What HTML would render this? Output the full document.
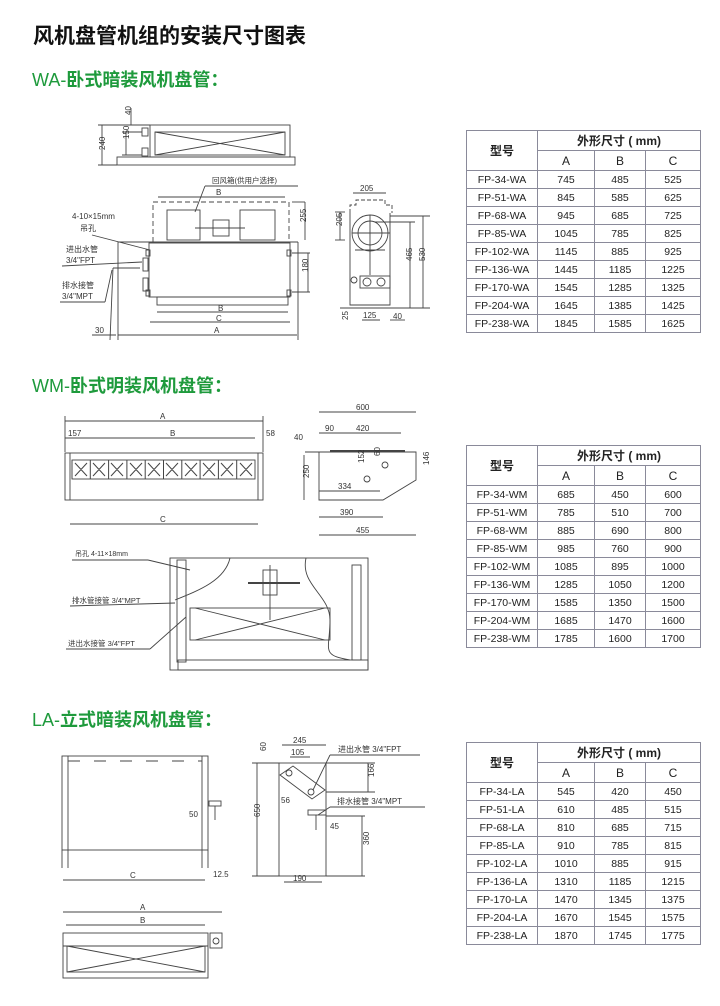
<!DOCTYPE html>
<html><head><meta charset="utf-8">
<style>
html,body{margin:0;padding:0;background:#fff;}
body{width:720px;height:1006px;position:relative;overflow:hidden;font-family:"Liberation Sans","Noto Sans CJK SC",sans-serif;}
.t{position:absolute;white-space:nowrap;}
h1{position:absolute;left:33px;top:20px;margin:0;font-size:21px;font-weight:bold;color:#111;font-family:"Liberation Sans","Noto Sans CJK SC",sans-serif;}
.sec{position:absolute;left:32px;margin:0;font-size:18px;font-weight:bold;color:#1e9a3c;}
.sec span{font-weight:normal}
table{position:absolute;left:466px;width:234px;border-collapse:collapse;font-size:10.5px;color:#222;table-layout:fixed;}
td{border:1.5px solid #8a8a9a;text-align:center;padding:0;height:17px;}
td.h{font-weight:bold;font-size:12px;}
svg{position:absolute;left:0;top:0;}
svg text{font-family:"Liberation Sans","Noto Sans CJK SC",sans-serif;fill:#333;}
</style></head><body>
<h1>风机盘管机组的安装尺寸图表</h1>
<div class="sec" style="top:66px"><span>WA-</span>卧式暗装风机盘管：</div>
<div class="sec" style="top:372px"><span>WM-</span>卧式明装风机盘管：</div>
<div class="sec" style="top:706px"><span>LA-</span>立式暗装风机盘管：</div>

<table style="top:130px">
<colgroup><col style="width:71px"><col style="width:57px"><col style="width:51px"><col style="width:55px"></colgroup>
<tr><td class="h" rowspan="2" style="height:38px">型号</td><td class="h" colspan="3" style="height:19px">外形尺寸 ( mm)</td></tr>
<tr><td style="height:19px;font-size:12px">A</td><td style="font-size:12px">B</td><td style="font-size:12px">C</td></tr>
<tr><td>FP-34-WA</td><td>745</td><td>485</td><td>525</td></tr>
<tr><td>FP-51-WA</td><td>845</td><td>585</td><td>625</td></tr>
<tr><td>FP-68-WA</td><td>945</td><td>685</td><td>725</td></tr>
<tr><td>FP-85-WA</td><td>1045</td><td>785</td><td>825</td></tr>
<tr><td>FP-102-WA</td><td>1145</td><td>885</td><td>925</td></tr>
<tr><td>FP-136-WA</td><td>1445</td><td>1185</td><td>1225</td></tr>
<tr><td>FP-170-WA</td><td>1545</td><td>1285</td><td>1325</td></tr>
<tr><td>FP-204-WA</td><td>1645</td><td>1385</td><td>1425</td></tr>
<tr><td>FP-238-WA</td><td>1845</td><td>1585</td><td>1625</td></tr>
</table>

<table style="top:445px">
<colgroup><col style="width:71px"><col style="width:57px"><col style="width:51px"><col style="width:55px"></colgroup>
<tr><td class="h" rowspan="2" style="height:38px">型号</td><td class="h" colspan="3" style="height:19px">外形尺寸 ( mm)</td></tr>
<tr><td style="height:19px;font-size:12px">A</td><td style="font-size:12px">B</td><td style="font-size:12px">C</td></tr>
<tr><td>FP-34-WM</td><td>685</td><td>450</td><td>600</td></tr>
<tr><td>FP-51-WM</td><td>785</td><td>510</td><td>700</td></tr>
<tr><td>FP-68-WM</td><td>885</td><td>690</td><td>800</td></tr>
<tr><td>FP-85-WM</td><td>985</td><td>760</td><td>900</td></tr>
<tr><td>FP-102-WM</td><td>1085</td><td>895</td><td>1000</td></tr>
<tr><td>FP-136-WM</td><td>1285</td><td>1050</td><td>1200</td></tr>
<tr><td>FP-170-WM</td><td>1585</td><td>1350</td><td>1500</td></tr>
<tr><td>FP-204-WM</td><td>1685</td><td>1470</td><td>1600</td></tr>
<tr><td>FP-238-WM</td><td>1785</td><td>1600</td><td>1700</td></tr>
</table>

<table style="top:742px">
<colgroup><col style="width:71px"><col style="width:57px"><col style="width:51px"><col style="width:55px"></colgroup>
<tr><td class="h" rowspan="2" style="height:38px">型号</td><td class="h" colspan="3" style="height:19px">外形尺寸 ( mm)</td></tr>
<tr><td style="height:19px;font-size:12px">A</td><td style="font-size:12px">B</td><td style="font-size:12px">C</td></tr>
<tr><td>FP-34-LA</td><td>545</td><td>420</td><td>450</td></tr>
<tr><td>FP-51-LA</td><td>610</td><td>485</td><td>515</td></tr>
<tr><td>FP-68-LA</td><td>810</td><td>685</td><td>715</td></tr>
<tr><td>FP-85-LA</td><td>910</td><td>785</td><td>815</td></tr>
<tr><td>FP-102-LA</td><td>1010</td><td>885</td><td>915</td></tr>
<tr><td>FP-136-LA</td><td>1310</td><td>1185</td><td>1215</td></tr>
<tr><td>FP-170-LA</td><td>1470</td><td>1345</td><td>1375</td></tr>
<tr><td>FP-204-LA</td><td>1670</td><td>1545</td><td>1575</td></tr>
<tr><td>FP-238-LA</td><td>1870</td><td>1745</td><td>1775</td></tr>
</table>

<svg width="720" height="1006" viewBox="0 0 720 1006" fill="none" stroke="#444" stroke-width="0.9" font-size="8">
<!-- WA top view -->
<line x1="98" y1="125" x2="150" y2="125"/>
<rect x="150" y="125" width="140" height="32"/>
<rect x="155" y="132" width="130" height="23"/>
<line x1="155" y1="132" x2="285" y2="155"/><line x1="155" y1="155" x2="285" y2="132"/>
<rect x="117" y="157" width="178" height="8"/>
<rect x="142" y="128" width="6" height="8"/><rect x="142" y="148" width="6" height="8"/>
<line x1="102" y1="125" x2="102" y2="165"/><line x1="98" y1="165" x2="117" y2="165"/>
<line x1="126" y1="132" x2="126" y2="155"/><line x1="122" y1="132" x2="142" y2="132"/><line x1="122" y1="155" x2="142" y2="155"/>
<line x1="131" y1="108" x2="131" y2="125"/>
<text x="100" y="155" transform="rotate(-90 100 150)" stroke="none">240</text>
<text x="127" y="147" transform="rotate(-90 124 142)" stroke="none">150</text>
<text x="130" y="120" transform="rotate(-90 128 117)" stroke="none">40</text>
<!-- WA front -->
<rect x="153" y="202" width="136" height="40" stroke-dasharray="5,3"/>
<line x1="158" y1="197" x2="285" y2="197"/><text x="216" y="195" stroke="none">B</text>
<text x="212" y="183" stroke="none" font-size="7.5">回风箱(供用户选择)</text>
<line x1="205" y1="186" x2="298" y2="186"/><line x1="205" y1="186" x2="195" y2="212"/>
<rect x="167" y="210" width="33" height="30"/><rect x="240" y="210" width="35" height="30"/>
<rect x="213" y="220" width="16" height="16"/><line x1="195" y1="228" x2="245" y2="228"/>
<line x1="118" y1="242" x2="298" y2="242"/><line x1="118" y1="242" x2="118" y2="340"/><line x1="298" y1="242" x2="298" y2="340"/>
<rect x="149" y="243" width="141" height="54"/>
<rect x="157" y="297" width="131" height="8"/>
<rect x="146" y="250" width="4" height="6"/><rect x="146" y="290" width="4" height="6"/><rect x="287" y="250" width="4" height="6"/><rect x="287" y="290" width="4" height="6"/>
<rect x="143" y="258" width="5" height="13"/><rect x="143" y="278" width="5" height="13"/>
<line x1="292" y1="202" x2="305" y2="202"/><line x1="305" y1="202" x2="305" y2="240"/>
<line x1="292" y1="253" x2="310" y2="253"/><line x1="308" y1="253" x2="308" y2="292"/><line x1="292" y1="292" x2="310" y2="292"/>
<text x="300" y="228" transform="rotate(-90 300 222)" stroke="none">255</text>
<text x="302" y="278" transform="rotate(-90 302 272)" stroke="none">180</text>
<line x1="157" y1="312" x2="288" y2="312"/><text x="218" y="311" stroke="none">B</text>
<line x1="150" y1="322" x2="290" y2="322"/><text x="216" y="321" stroke="none">C</text>
<line x1="118" y1="335" x2="297" y2="335"/><text x="214" y="333" stroke="none">A</text>
<line x1="113" y1="268" x2="140" y2="268"/><line x1="113" y1="268" x2="110" y2="340"/>
<text x="95" y="333" stroke="none">30</text><line x1="92" y1="335" x2="116" y2="335"/>
<text x="72" y="219" stroke="none">4-10×15mm</text><text x="80" y="231" stroke="none">吊孔</text>
<line x1="92" y1="235" x2="150" y2="250"/>
<text x="66" y="252" stroke="none">进出水管</text><text x="66" y="263" stroke="none">3/4"FPT</text>
<line x1="62" y1="266" x2="142" y2="262"/>
<text x="62" y="288" stroke="none">排水接管</text><text x="62" y="299" stroke="none">3/4"MPT</text>
<line x1="60" y1="302" x2="105" y2="302"/><line x1="105" y1="302" x2="112" y2="270"/>
<!-- WA side -->
<line x1="353" y1="193" x2="386" y2="193"/><text x="360" y="191" stroke="none">205</text>
<path d="M350 213 V205 H356 V200 H385 V205 H392 V213" stroke-dasharray="4,2"/>
<path d="M350 213 V305 H390 V213"/>
<circle cx="370" cy="233" r="18"/><circle cx="370" cy="233" r="12"/>
<line x1="370" y1="215" x2="370" y2="275"/><line x1="352" y1="233" x2="390" y2="233"/>
<line x1="355" y1="250" x2="385" y2="250"/><rect x="360" y="276" width="30" height="12"/>
<circle cx="367" cy="282" r="4"/><circle cx="381" cy="282" r="4"/><circle cx="354" cy="280" r="3"/>
<line x1="335" y1="212" x2="345" y2="212"/><line x1="340" y1="212" x2="340" y2="240"/><line x1="335" y1="240" x2="345" y2="240"/>
<text x="338" y="230" transform="rotate(-90 338 226)" stroke="none">205</text>
<line x1="390" y1="216" x2="430" y2="216"/><line x1="423" y1="216" x2="423" y2="308"/>
<line x1="375" y1="222" x2="415" y2="222"/><line x1="410" y1="222" x2="410" y2="308"/>
<line x1="340" y1="308" x2="430" y2="308"/>
<text x="411" y="268" transform="rotate(-90 408 264)" stroke="none">465</text>
<text x="424" y="268" transform="rotate(-90 421 264)" stroke="none">530</text>
<line x1="362" y1="320" x2="380" y2="320"/><text x="363" y="318" stroke="none">125</text>
<text x="393" y="319" stroke="none">40</text><line x1="390" y1="320" x2="405" y2="320"/>
<text x="343" y="325" transform="rotate(-90 343 320)" stroke="none">25</text>

<!-- WM front -->
<line x1="65" y1="421" x2="263" y2="421"/><text x="160" y="419" stroke="none">A</text>
<line x1="65" y1="438" x2="255" y2="438"/><text x="170" y="436" stroke="none">B</text>
<text x="68" y="436" stroke="none">157</text><text x="266" y="436" stroke="none">58</text>
<line x1="65" y1="416" x2="65" y2="452"/><line x1="263" y1="416" x2="263" y2="452"/>
<rect x="65" y="453" width="198" height="47"/>
<line x1="70" y1="453" x2="70" y2="500"/><line x1="258" y1="453" x2="258" y2="500"/>
<rect x="72" y="460" width="183" height="19"/>
<g stroke-width="1">
<path d="M72 460v19M90.3 460v19M108.6 460v19M126.9 460v19M145.2 460v19M163.5 460v19M181.8 460v19M200.1 460v19M218.4 460v19M236.7 460v19"/>
<path d="M75 463l12 13M87 463l-12 13M93 463l12 13M105 463l-12 13M111 463l12 13M123 463l-12 13M130 463l12 13M142 463l-12 13M148 463l12 13M160 463l-12 13M166 463l12 13M178 463l-12 13M185 463l12 13M197 463l-12 13M203 463l12 13M215 463l-12 13M221 463l12 13M233 463l-12 13M240 463l12 13M252 463l-12 13"/>
</g>
<line x1="70" y1="524" x2="258" y2="524"/><text x="160" y="522" stroke="none">C</text>
<!-- WM side -->
<line x1="319" y1="412" x2="416" y2="412"/><text x="356" y="410" stroke="none">600</text>
<line x1="319" y1="433" x2="401" y2="433"/><text x="325" y="431" stroke="none">90</text><text x="356" y="431" stroke="none">420</text>
<text x="294" y="440" stroke="none">40</text>
<path d="M305 452 H319 V500 H383 L416 480 V452 H319"/>
<line x1="330" y1="451" x2="405" y2="451" stroke-width="2"/>
<circle cx="385" cy="465" r="3"/><circle cx="367" cy="479" r="3"/>
<line x1="304" y1="455" x2="304" y2="500"/>
<text x="306" y="485" transform="rotate(-90 304 480)" stroke="none">250</text>
<text x="363" y="470" transform="rotate(-90 360 466)" stroke="none">152</text>
<text x="378" y="462" transform="rotate(-90 376 458)" stroke="none">60</text>
<text x="428" y="472" transform="rotate(-90 425 468)" stroke="none">146</text>
<line x1="319" y1="491" x2="380" y2="491"/><text x="338" y="489" stroke="none">334</text>
<line x1="319" y1="517" x2="383" y2="517"/><text x="340" y="515" stroke="none">390</text>
<line x1="319" y1="535" x2="416" y2="535"/><text x="356" y="533" stroke="none">455</text>
<!-- WM bottom -->
<rect x="170" y="558" width="198" height="112"/>
<rect x="177" y="560" width="9" height="102"/><rect x="352" y="565" width="9" height="95"/>
<rect x="178" y="660" width="190" height="10"/>
<path d="M230 558 C225 580 200 590 175 600"/>
<path d="M306 558 C300 585 330 595 330 620 C330 650 320 655 350 660"/>
<rect x="190" y="608" width="140" height="32"/>
<line x1="195" y1="608" x2="325" y2="640"/><line x1="195" y1="640" x2="325" y2="608"/>
<rect x="263" y="570" width="14" height="25"/><line x1="248" y1="583" x2="300" y2="583" stroke-width="2"/>
<line x1="270" y1="565" x2="270" y2="620"/>
<text x="75" y="556" stroke="none" font-size="7">吊孔  4-11×18mm</text>
<line x1="72" y1="560" x2="148" y2="560"/><line x1="148" y1="560" x2="190" y2="570"/>
<text x="72" y="603" stroke="none" font-size="7.5">排水管接管 3/4"MPT</text>
<line x1="70" y1="606" x2="175" y2="603"/>
<text x="68" y="646" stroke="none" font-size="7.5">进出水接管 3/4"FPT</text>
<line x1="66" y1="649" x2="150" y2="649"/><line x1="150" y1="649" x2="186" y2="617"/>

<!-- LA front -->
<rect x="62" y="756" width="146" height="94"/>
<line x1="68" y1="756" x2="68" y2="868"/><line x1="202" y1="756" x2="202" y2="868"/>
<line x1="62" y1="850" x2="62" y2="868"/><line x1="208" y1="850" x2="208" y2="868"/>
<line x1="68" y1="761" x2="202" y2="761" stroke-dasharray="12,14"/>
<rect x="209" y="801" width="12" height="5"/><line x1="215" y1="806" x2="215" y2="820"/>
<line x1="63" y1="880" x2="205" y2="880"/><text x="130" y="878" stroke="none">C</text>
<text x="213" y="877" stroke="none">12.5</text>
<text x="189" y="817" stroke="none">50</text>
<!-- LA bottom -->
<line x1="63" y1="912" x2="222" y2="912"/><text x="140" y="910" stroke="none">A</text>
<line x1="66" y1="925" x2="205" y2="925"/><text x="140" y="923" stroke="none">B</text>
<rect x="63" y="933" width="145" height="45"/>
<rect x="67" y="946" width="138" height="26"/>
<line x1="67" y1="946" x2="205" y2="972"/><line x1="67" y1="972" x2="205" y2="946"/>
<line x1="63" y1="946" x2="208" y2="946"/>
<rect x="210" y="933" width="12" height="15"/><circle cx="216" cy="941" r="3"/>
<!-- LA side -->
<rect x="279" y="763" width="47" height="113"/>
<line x1="282" y1="745" x2="326" y2="745"/><text x="293" y="743" stroke="none">245</text>
<line x1="290" y1="757" x2="310" y2="757"/><text x="291" y="755" stroke="none">105</text>
<text x="264" y="757" transform="rotate(-90 262 753)" stroke="none">60</text>
<path d="M280 775 L293 766 L325 790 L312 799 Z"/>
<circle cx="289" cy="773" r="3"/><circle cx="311" cy="792" r="3"/>
<line x1="252" y1="763" x2="280" y2="763"/><line x1="252" y1="876" x2="280" y2="876"/>
<line x1="257" y1="763" x2="257" y2="876"/>
<text x="258" y="825" transform="rotate(-90 255 820)" stroke="none">650</text>
<line x1="326" y1="763" x2="375" y2="763"/><line x1="326" y1="792" x2="375" y2="792"/><line x1="368" y1="763" x2="368" y2="792"/>
<text x="371" y="784" transform="rotate(-90 369 779)" stroke="none">166</text>
<line x1="326" y1="816" x2="365" y2="816"/><line x1="362" y1="816" x2="362" y2="876"/><line x1="326" y1="876" x2="365" y2="876"/>
<text x="366" y="852" transform="rotate(-90 364 847)" stroke="none">360</text>
<rect x="308" y="810" width="18" height="5"/><line x1="316" y1="815" x2="316" y2="830"/>
<text x="330" y="829" stroke="none">45</text>
<text x="281" y="803" stroke="none">56</text>
<line x1="284" y1="882" x2="322" y2="882"/><text x="293" y="881" stroke="none">190</text>
<text x="338" y="752" stroke="none" font-size="8">进出水管 3/4"FPT</text>
<line x1="330" y1="755" x2="420" y2="755"/><line x1="330" y1="755" x2="313" y2="790"/>
<text x="337" y="804" stroke="none" font-size="8">排水接管 3/4"MPT</text>
<line x1="330" y1="807" x2="425" y2="807"/><line x1="330" y1="807" x2="318" y2="815"/>
</svg>
</body></html>
